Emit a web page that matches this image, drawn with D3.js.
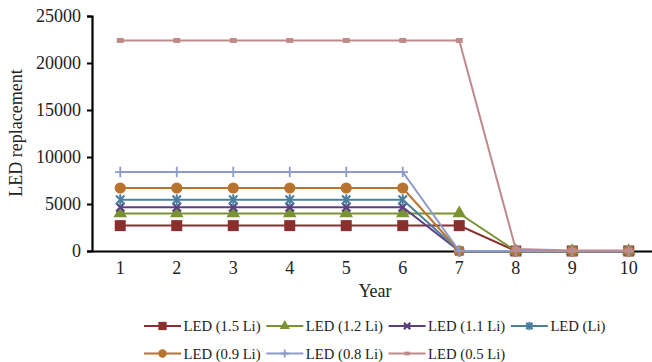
<!DOCTYPE html>
<html>
<head>
<meta charset="utf-8">
<script src="https://cdn.jsdelivr.net/npm/d3@7"></script>
<style>
  body { margin: 0; background: #fff; }
  text { font-family: "Liberation Serif", "Times New Roman", serif; fill: #222; }
</style>
</head>
<body>
<svg id="chart"></svg>
<script>
const width = 652, height = 362;

// data
const years = [1, 2, 3, 4, 5, 6, 7, 8, 9, 10];
const seriesNames = ["LED (1.5 Li)", "LED (1.2 Li)", "LED (1.1 Li)", "LED (Li)", "LED (0.9 Li)", "LED (0.8 Li)", "LED (0.5 Li)"];
const led15 = [2700, 2700, 2700, 2700, 2700, 2700, 2700, 0, 0, 0];
const led12 = [4000, 4000, 4000, 4000, 4000, 4000, 4000, 0, 0, 0];
const led11 = [4650, 4650, 4650, 4650, 4650, 4650, 0, 0, 0, 0];
const led10 = [5450, 5450, 5450, 5450, 5450, 5450, 0, 0, 0, 0];
const led09 = [6700, 6700, 6700, 6700, 6700, 6700, 0, 0, 0, 0];
const led08 = [8400, 8400, 8400, 8400, 8400, 8400, 0, 0, 0, 0];
const led05 = [22400, 22400, 22400, 22400, 22400, 22400, 22400, 200, 50, 50];
const yTicks = [0, 5000, 10000, 15000, 20000, 25000];

const colors = ["#8b2e2e", "#7a9332", "#5c3f7f", "#4a7f9e", "#b8732e", "#8e9bc9", "#bf8a8a"];
const markers = ["square", "triangle", "x", "asterisk", "circle", "plus", "dash"];
const values = [led15, led12, led11, led10, led09, led08, led05];

const series = seriesNames.map((name, i) => ({
  name: name, color: colors[i], marker: markers[i],
  points: years.map((y, j) => ({ year: y, value: values[i][j] }))
}));

const svg = d3.select("#chart").attr("width", width).attr("height", height);

const x = d3.scaleBand().domain(years).range([92, 657]);
const y = d3.scaleLinear().domain([0, 25000]).range([251, 16]);
const cx = d => x(d) + x.bandwidth() / 2;

// y axis
const yAxis = svg.append("g")
  .attr("transform", "translate(92,0)")
  .call(d3.axisLeft(y).tickValues(yTicks).tickSize(5).tickPadding(6).tickFormat(d3.format("d")));
yAxis.select(".domain").attr("stroke", "#000").attr("stroke-width", 2.2);
yAxis.selectAll(".tick line").attr("stroke", "#000").attr("stroke-width", 2);
yAxis.selectAll(".tick text").style("font-size", "18px").attr("fill", "#222")
  .style("font-family", "Liberation Serif");

// x axis
const xAxis = svg.append("g")
  .attr("transform", "translate(0,251)")
  .call(d3.axisBottom(x).tickSize(0).tickPadding(10));
xAxis.select(".domain").attr("stroke", "#000").attr("stroke-width", 2.2);
xAxis.selectAll(".tick text").style("font-size", "18px").attr("fill", "#222")
  .style("font-family", "Liberation Serif");

svg.append("text")
  .attr("x", 375).attr("y", 297)
  .attr("text-anchor", "middle")
  .style("font-size", "18px")
  .text("Year");

svg.append("text")
  .attr("transform", "translate(22,133) rotate(-90)")
  .attr("text-anchor", "middle")
  .style("font-size", "18px")
  .text("LED replacement");

function cross(g, r, color, w) {
  g.append("path").attr("d", `M${-r},${-r}L${r},${r}M${-r},${r}L${r},${-r}`)
    .attr("fill", "none").attr("stroke", color).attr("stroke-width", w);
}

function drawMarker(g, type, color, s) {
  if (type === "square") {
    g.append("rect").attr("x", -5.5 * s).attr("y", -5.5 * s).attr("width", 11 * s).attr("height", 11 * s).attr("fill", color);
  } else if (type === "triangle") {
    g.append("path").attr("d", d3.symbol(d3.symbolTriangle, 80 * s * s)()).attr("fill", color);
  } else if (type === "circle") {
    g.append("circle").attr("r", 5.6 * s).attr("fill", color);
  } else if (type === "x") {
    cross(g, 4.2 * s, color, 2.2);
  } else if (type === "asterisk") {
    cross(g, 4.2 * s, color, 2.2);
    g.append("line").attr("y1", -5.5 * s).attr("y2", 5.5 * s)
      .attr("stroke", color).attr("stroke-width", 2);
  } else if (type === "plus") {
    const r = 5.2 * s;
    g.append("path").attr("d", `M${-r},0L${r},0M0,${-r}L0,${r}`)
      .attr("fill", "none").attr("stroke", color).attr("stroke-width", 1.8);
  } else if (type === "dash") {
    g.append("rect").attr("x", -3.5 * s).attr("y", -2.5 * s).attr("width", 7 * s).attr("height", 5 * s).attr("fill", color);
  }
}

const line = d3.line().x(d => cx(d.year)).y(d => y(d.value));

series.forEach(s => {
  const g = svg.append("g");
  g.append("path")
    .datum(s.points)
    .attr("d", line)
    .attr("fill", "none")
    .attr("stroke", s.color)
    .attr("stroke-width", 2);
  g.selectAll("g.pt")
    .data(s.points)
    .enter()
      .append("g")
      .attr("class", "pt")
      .attr("transform", d => "translate(" + cx(d.year) + "," + y(d.value) + ")")
      .each(function() { drawMarker(d3.select(this), s.marker, s.color, 1); });
});

// legend, 4 per row
const legend = svg.append("g");
series.forEach((s, i) => {
  const col = i % 4, row = Math.floor(i / 4);
  const lg = legend.append("g")
    .attr("transform", "translate(" + (144 + col * 122.3) + "," + (326 + row * 27.5) + ")");
  lg.append("line").attr("x1", 0).attr("x2", 37)
    .attr("stroke", s.color).attr("stroke-width", 2);
  drawMarker(lg.append("g").attr("transform", "translate(18.5,0)"), s.marker, s.color, 0.75);
  lg.append("text").attr("x", 39.5).attr("y", 5)
    .style("font-size", "14.7px")
    .text(s.name);
});
</script>
</body>
</html>
